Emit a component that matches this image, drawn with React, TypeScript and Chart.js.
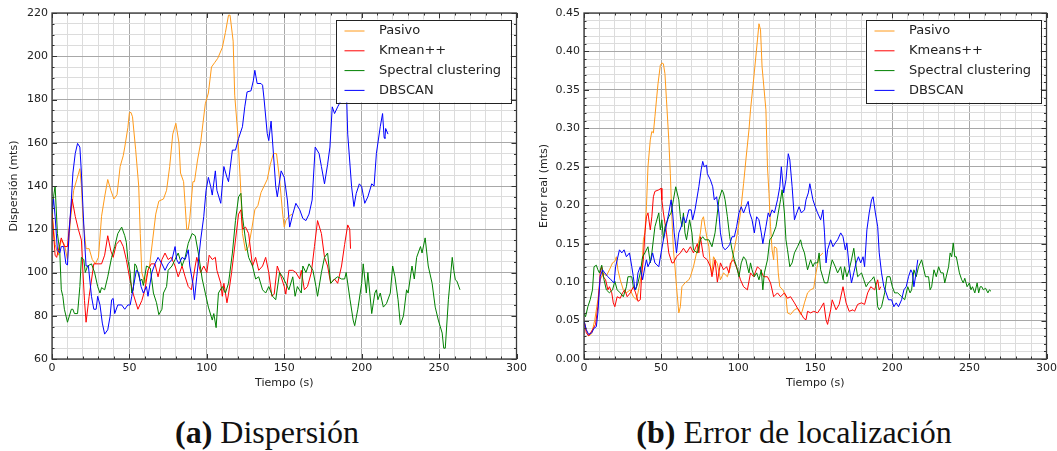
import React, { useEffect, useRef } from "react";
import { Chart, registerables } from "chart.js";
Chart.register(...registerables);

// ---------- (a) Dispersión ----------
const dispPasivoT = [0, 2, 4, 6, 8, 10, 12, 14, 16, 18, 19, 20, 22, 24, 26, 28, 30, 32, 34, 36, 38, 40, 42, 44, 46, 47, 49, 50, 51, 52, 54, 56, 57, 58, 60, 62, 63, 65, 67, 69, 72, 74, 76, 78, 80, 82, 83, 85, 86, 87, 88, 89, 91, 92, 94, 96, 99, 101, 103, 105, 107, 110, 112, 114, 115, 117, 118, 120, 122, 123, 125, 127, 129, 131, 133, 135, 137, 139, 141, 143, 145, 147, 149, 150, 151, 153, 155];
const dispPasivoV = [128, 113, 108, 115, 113, 106, 125, 138, 143, 148, 140, 125, 111, 111, 106, 104, 107, 126, 135, 143, 138, 134, 136, 149, 154, 158, 167, 174, 174, 172, 157, 140, 118, 100, 95, 101, 103, 115, 127, 133, 134, 138, 149, 164, 169, 160, 146, 142, 131, 120, 120, 125, 142, 142, 152, 160, 178, 183, 195, 197, 199, 204, 211, 219, 219, 207, 182, 164, 137, 118, 110, 112, 120, 129, 131, 137, 140, 143, 150, 155, 155, 143, 127, 121, 124, 126, 127];

const dispKmeanT = [0, 2, 3, 5, 6, 8, 10, 11, 13, 15, 17, 19, 20, 21, 22, 24, 25, 27, 30, 32, 34, 36, 38, 39.5, 41.5, 44, 46, 48, 50, 52.5, 55.5, 58, 60, 62, 64, 66.5, 68.5, 71, 73, 75, 77, 79.5, 81.5, 84, 86, 88, 90, 92.5, 93.5, 96, 98, 100, 101.5, 103.5, 105.5, 106.5, 109, 110, 111, 113, 114, 116, 118.5, 120.5, 122, 123, 125, 127, 129.5, 131.5, 133.5, 136, 138, 140, 142, 143.5, 145.5, 148, 150, 151, 153, 155.5, 157.5, 160, 161, 163, 165, 167.5, 169.5, 171.5, 174, 176, 178, 180, 182.5, 184.5, 187, 189, 191, 192.3, 192.8];
const dispKmeanV = [128, 108, 107, 113, 116, 112, 112, 120, 134, 126, 120, 115, 100, 87, 77, 89, 94, 104, 104, 104, 108, 117, 110, 107, 113, 115, 112, 106, 98, 90, 83, 87, 92, 101, 104, 104, 98, 106, 109, 106, 107, 103, 98, 103, 98, 93.5, 92, 103, 107, 100, 103, 100, 108, 106, 107, 101, 95, 89, 95, 86, 90, 100, 115, 127, 129, 120, 121, 118, 103, 107, 101, 103, 107, 100, 89, 90, 103, 98, 93.5, 90, 101, 101, 100, 97, 101, 92, 93.5, 100, 112, 124, 118, 107, 103, 95, 97, 95, 103, 113, 122, 120, 111];

const dispSpectralT = [0, 1, 2, 3.5, 5, 6, 7, 8, 10, 12.5, 13.5, 14.5, 16.5, 18, 19, 20.5, 21.5, 23, 25.5, 27.5, 29.5, 31, 32, 34, 36, 38.5, 40.5, 42.5, 45, 47, 48, 49, 50.5, 51.5, 52.5, 53.5, 54.5, 55.5, 57, 58, 59, 61, 63.5, 65.5, 67.5, 69, 71, 72, 74, 75, 77.5, 79.5, 81.5, 84, 86, 88, 90.5, 92.5, 94.5, 97, 99, 101, 103.5, 104.5, 106, 107.5, 110, 112, 114, 116.5, 118.5, 120.5, 122, 123, 125, 127, 129.5, 131.5, 133.5, 136, 138, 140, 142.5, 144.5, 147, 149, 151, 153, 155.5, 157, 158.5, 161, 162, 164, 166, 168.5, 170.5, 171.5, 174, 176, 178, 180, 182.5, 184.5, 187, 189, 190, 192.5, 194.5, 195.5, 197.5, 200, 201, 203, 204, 206.5, 208.5, 209.5, 210.5, 212, 214, 216, 218.5, 220, 221.5, 223.5, 225, 227, 229, 230, 232.5, 234, 235.5, 238, 239, 241, 243, 245.5, 247.5, 249.5, 252, 253, 254, 256, 258.5, 259.5, 260.5, 261.5, 263.5];
const dispSpectralV = [127, 135, 140, 118, 110, 92, 89, 83, 77, 83, 83, 81, 81, 93.5, 107, 106, 100, 103, 104, 100, 93.5, 90.5, 93, 92, 98, 107, 112, 118, 121, 117, 114, 106, 100, 90.5, 92, 104, 103, 100, 96, 97, 94, 103, 102, 90.5, 86, 80.5, 83, 90.5, 93.5, 101, 103, 106, 109, 103, 107, 113.5, 118, 117, 109, 97, 90.5, 84, 78, 81, 74.5, 90.5, 93.5, 90.5, 95, 109, 124, 135, 136.6, 126, 115, 107, 103, 97, 98, 92, 90.5, 93.5, 89, 87.4, 100, 98, 95, 92, 98, 89, 93.5, 90.5, 103, 100, 104, 101, 93.5, 89, 100, 107, 109, 95, 97, 98, 97, 97, 100, 87.4, 78, 75.4, 83, 95, 104, 90.5, 100, 81, 90.5, 92, 87.4, 90.5, 84, 85.6, 90.5, 103, 98, 87.4, 75.8, 80, 92, 90.5, 103, 97, 107, 112, 109, 116, 103, 95, 84, 78, 72, 65, 65, 87.4, 107, 101, 96.6, 96, 92];

const dispDbscanT = [0, 1, 2, 3.5, 5, 6, 7.5, 9, 10, 11, 12.5, 13.5, 15, 16.5, 18, 19, 20, 21, 22, 23.5, 25.5, 27, 28.5, 29.5, 31, 32.5, 34, 36, 37.5, 38.5, 39.5, 40.5, 42.5, 45, 47, 49, 50.5, 51.5, 53, 54.5, 56, 57.5, 59, 61, 62, 64.5, 66.5, 68.5, 71, 73, 75, 77.5, 79.5, 80.5, 82, 84, 86, 88, 89, 91, 92, 93.5, 96, 98, 99.5, 101, 102.5, 103.5, 105.5, 106.5, 109, 111, 113, 114, 116.5, 118.5, 120.5, 123, 124.5, 126, 128.5, 130, 131, 132.5, 135, 136, 137, 139, 140, 141.5, 143, 144.5, 145.5, 148, 150, 152, 153.5, 155.5, 157.5, 160, 162, 164, 166, 168, 170, 172.5, 174, 176, 178, 179.5, 181, 182.5, 184.5, 187, 188, 189, 190, 191, 193.5, 195, 196.5, 198.5, 200, 202, 204, 206.5, 208, 209.5, 212, 213.5, 214.5, 215, 215.5, 217];
const dispDbscanV = [128, 134, 126, 110.5, 109, 112, 112, 104, 103.5, 118, 133.5, 146, 155, 159.7, 158, 146, 130, 115, 103, 103, 89, 83, 83, 89, 85, 76.6, 71.5, 73.5, 79.7, 87.4, 88, 81, 85, 85, 83, 85, 85, 89, 95, 101, 100, 93.5, 90.5, 93.5, 89, 100, 104, 107, 104, 101, 104, 106, 112, 106, 104, 107, 106, 110.5, 103, 95, 87.4, 98, 115, 125.8, 138, 144, 139.7, 135.8, 147, 138, 132, 149, 144, 142, 156.6, 156.6, 162, 167.4, 176.6, 183.5, 184, 188.6, 193.5, 187.4, 187.4, 186.6, 180, 164.3, 161, 170, 155, 139.7, 135, 147, 144, 133.5, 121, 127, 132, 129, 125, 124, 127, 133.5, 158, 155, 149, 141, 150, 158, 176.6, 173.5, 176.6, 180, 183, 195, 188, 164, 139.7, 130.5, 136.6, 141, 139.7, 132, 135, 141, 140, 155, 167.4, 173.5, 162.5, 162, 166.6, 164];

// ---------- (b) Error de localización ----------
const errPasivoT = [0, 1.5, 3, 5, 7, 9, 10.5, 12.5, 14.5, 16.5, 18.5, 20, 21, 22, 23.5, 25.5, 27.5, 30, 32, 34, 35, 37.5, 38.5, 39.5, 40.5, 41.5, 43, 44, 45, 46, 47, 48, 49.5, 50.5, 51.5, 52.5, 53.5, 55, 56, 57, 58, 59, 60, 61.5, 62.5, 63.5, 65.5, 68, 69, 71, 73, 75.5, 76.5, 77.5, 78.5, 80, 81, 82, 83, 84, 86.5, 88.5, 90.5, 93, 95, 97, 99.5, 101.5, 103.5, 105, 107, 108, 110, 112.5, 113.5, 114.5, 115.5, 118, 119, 120, 121, 122, 123, 123.5, 125, 126, 127, 129, 131, 132, 134, 136.5, 138.5, 140.5, 141.5, 143, 145, 147, 149, 150.5, 152.5, 155];
const errPasivoV = [0.05, 0.038, 0.03, 0.033, 0.051, 0.077, 0.103, 0.112, 0.108, 0.116, 0.125, 0.127, 0.133, 0.116, 0.103, 0.09, 0.086, 0.09, 0.081, 0.077, 0.086, 0.112, 0.155, 0.164, 0.198, 0.25, 0.285, 0.296, 0.294, 0.315, 0.337, 0.358, 0.382, 0.385, 0.384, 0.371, 0.337, 0.285, 0.241, 0.185, 0.142, 0.12, 0.094, 0.06, 0.068, 0.094, 0.099, 0.103, 0.107, 0.12, 0.138, 0.164, 0.181, 0.185, 0.172, 0.155, 0.146, 0.12, 0.112, 0.133, 0.124, 0.103, 0.112, 0.107, 0.12, 0.138, 0.164, 0.19, 0.228, 0.259, 0.298, 0.324, 0.363, 0.415, 0.436, 0.428, 0.38, 0.324, 0.25, 0.215, 0.172, 0.142, 0.129, 0.146, 0.144, 0.112, 0.094, 0.09, 0.081, 0.06, 0.058, 0.064, 0.066, 0.058, 0.062, 0.073, 0.086, 0.09, 0.092, 0.112, 0.133, 0.138];

const errKmeansT = [0, 1.5, 3, 5.5, 7.5, 9, 10.5, 11.5, 12.5, 14, 15.5, 16.5, 18, 19, 20, 21.5, 23.5, 25, 26.5, 28, 30, 32, 33.5, 35, 36.5, 37.5, 38.5, 39.5, 40.5, 41.5, 43, 44, 45, 46, 48.5, 50, 50.5, 51.5, 53.5, 55, 57, 58, 60, 62.5, 64.5, 66.5, 69, 71, 73.5, 74.5, 75.5, 77.5, 80, 82, 83, 85, 86.5, 88.5, 90.5, 92.5, 94, 95, 97, 99.5, 101.5, 103.5, 106, 108, 110, 112.5, 114.5, 116.5, 119, 121, 123, 125.5, 127.5, 130, 132, 134, 136.5, 138.5, 140.5, 142.5, 144, 145, 147, 149, 151.5, 153.5, 155.5, 157, 158, 160, 161, 163.5, 165.5, 168, 170, 172, 174.5, 175.5, 177.5, 180, 182, 184, 186, 188.5, 190.5, 191.5, 192.5];
const errKmeansV = [0.05, 0.034, 0.03, 0.038, 0.045, 0.068, 0.112, 0.12, 0.107, 0.103, 0.09, 0.094, 0.086, 0.073, 0.068, 0.081, 0.079, 0.086, 0.09, 0.081, 0.086, 0.094, 0.086, 0.075, 0.077, 0.112, 0.129, 0.164, 0.185, 0.19, 0.168, 0.185, 0.211, 0.218, 0.22, 0.222, 0.207, 0.19, 0.164, 0.138, 0.125, 0.125, 0.133, 0.138, 0.144, 0.138, 0.146, 0.138, 0.15, 0.138, 0.159, 0.133, 0.129, 0.12, 0.107, 0.129, 0.1, 0.125, 0.116, 0.12, 0.112, 0.125, 0.129, 0.116, 0.103, 0.094, 0.09, 0.112, 0.107, 0.12, 0.116, 0.107, 0.107, 0.099, 0.081, 0.086, 0.081, 0.086, 0.079, 0.081, 0.073, 0.066, 0.06, 0.053, 0.051, 0.062, 0.06, 0.062, 0.06, 0.066, 0.073, 0.051, 0.045, 0.064, 0.077, 0.064, 0.071, 0.094, 0.073, 0.062, 0.064, 0.062, 0.071, 0.073, 0.071, 0.086, 0.094, 0.09, 0.103, 0.09, 0.094];

const errSpectralT = [0, 1, 2.5, 4, 5.5, 6.5, 8, 9, 10, 11.5, 13, 14.5, 16.5, 18.5, 20, 21.5, 23.5, 25.5, 27.5, 28.5, 31, 32, 33.5, 35, 36.5, 38, 39.5, 41.5, 43, 44, 46, 48.5, 49.5, 50.5, 51.5, 52.5, 55, 56.5, 58, 59.5, 61.5, 62.5, 63.5, 64.5, 65.5, 66.5, 68.5, 70, 71, 73.5, 75.5, 77, 78.5, 81, 83, 85, 87.5, 89.5, 90.5, 91.5, 93, 94.5, 96, 97.5, 99, 100.5, 102, 103.5, 105, 106, 107, 108, 109, 110.5, 112, 113.5, 115, 116, 117, 119, 120.5, 122, 124.5, 126, 127.5, 128.5, 130, 131, 132, 133.5, 135, 136.5, 138.5, 140.5, 141.5, 143, 145, 147, 148.5, 149.5, 151.5, 152.5, 153.5, 156, 158, 160, 161, 163, 164.5, 166.5, 168, 169, 170.5, 172, 173.5, 175, 176.5, 177.5, 180, 181.5, 183, 184.5, 186.5, 188, 189.5, 190.5, 191.5, 193, 195, 196.5, 198.5, 200, 201.5, 203.5, 206, 208, 210, 211.5, 212.5, 214, 215.5, 217, 219, 220, 221.5, 223.5, 224.5, 225.5, 227, 228.5, 230, 231.5, 233, 234, 236.5, 237.5, 238.5, 239.5, 240.5, 241.5, 243.5, 245, 246, 247, 248.5, 250, 251, 252, 253.5, 255, 256, 257, 258, 259, 260.5, 262, 263, 264];
const errSpectralV = [0.06, 0.055, 0.068, 0.077, 0.09, 0.12, 0.122, 0.116, 0.112, 0.122, 0.103, 0.09, 0.086, 0.09, 0.101, 0.09, 0.086, 0.081, 0.094, 0.107, 0.107, 0.094, 0.09, 0.099, 0.112, 0.133, 0.138, 0.146, 0.125, 0.138, 0.172, 0.19, 0.168, 0.181, 0.155, 0.172, 0.185, 0.19, 0.207, 0.224, 0.207, 0.185, 0.172, 0.19, 0.164, 0.155, 0.181, 0.164, 0.142, 0.138, 0.155, 0.159, 0.155, 0.155, 0.146, 0.164, 0.207, 0.22, 0.216, 0.207, 0.185, 0.159, 0.142, 0.129, 0.12, 0.107, 0.125, 0.133, 0.129, 0.12, 0.112, 0.125, 0.116, 0.107, 0.112, 0.103, 0.116, 0.09, 0.112, 0.129, 0.155, 0.159, 0.172, 0.19, 0.207, 0.22, 0.19, 0.155, 0.142, 0.12, 0.125, 0.138, 0.146, 0.155, 0.146, 0.138, 0.116, 0.129, 0.12, 0.125, 0.125, 0.138, 0.116, 0.099, 0.099, 0.12, 0.129, 0.12, 0.112, 0.12, 0.103, 0.12, 0.107, 0.116, 0.129, 0.144, 0.12, 0.107, 0.112, 0.103, 0.094, 0.099, 0.103, 0.107, 0.094, 0.068, 0.064, 0.068, 0.086, 0.107, 0.107, 0.094, 0.086, 0.086, 0.081, 0.077, 0.094, 0.086, 0.09, 0.116, 0.107, 0.12, 0.129, 0.12, 0.107, 0.107, 0.09, 0.094, 0.116, 0.107, 0.12, 0.112, 0.112, 0.099, 0.12, 0.138, 0.133, 0.151, 0.133, 0.133, 0.112, 0.103, 0.099, 0.105, 0.094, 0.099, 0.09, 0.094, 0.086, 0.099, 0.086, 0.094, 0.094, 0.09, 0.092, 0.086, 0.09, 0.088];

const errDbscanT = [0, 1.5, 3, 5, 6.5, 8, 9, 10.5, 12, 13.5, 15.5, 17.5, 19.5, 20.5, 23, 24.5, 26, 27.5, 29.5, 31, 32, 33, 34, 35, 36.5, 38, 39.5, 40.5, 41.5, 43.5, 44.5, 46, 48.5, 50, 51.5, 52.5, 55, 56.5, 57.5, 58.5, 60, 61.5, 63, 64.5, 66, 68, 69.5, 70.5, 72, 74.5, 76, 77, 78, 79.5, 80, 82, 83.5, 84.5, 86, 87.5, 88.5, 90, 91.5, 93.5, 94.5, 96, 97.5, 99, 100.5, 102, 103.5, 105, 106.5, 107.5, 109, 110.5, 112, 113.5, 115, 116, 118, 119.5, 120.5, 122, 123.5, 125.5, 127, 128, 129.5, 131, 132.5, 133.5, 135, 136.5, 138, 139.5, 141, 143, 144, 145.5, 146.5, 148.5, 150, 151.5, 153.5, 155, 156, 157, 158, 160, 161.5, 163, 164.5, 166.5, 168, 169.5, 170.5, 172, 173.5, 175, 176.5, 178, 179.5, 181, 182, 183.5, 185, 186.5, 187.5, 189, 190.5, 191.5, 193, 194.5, 196, 197.5, 199.5, 201, 202.5, 204, 206, 207.5, 209, 210.5, 212, 213, 214, 215, 216.5];
const errDbscanV = [0.05, 0.038, 0.032, 0.034, 0.04, 0.042, 0.06, 0.107, 0.116, 0.112, 0.107, 0.103, 0.099, 0.12, 0.142, 0.138, 0.142, 0.133, 0.138, 0.12, 0.107, 0.09, 0.094, 0.112, 0.12, 0.103, 0.12, 0.129, 0.12, 0.129, 0.138, 0.125, 0.12, 0.138, 0.155, 0.164, 0.19, 0.207, 0.19, 0.164, 0.138, 0.164, 0.172, 0.185, 0.177, 0.194, 0.194, 0.181, 0.194, 0.224, 0.246, 0.257, 0.25, 0.252, 0.241, 0.233, 0.224, 0.207, 0.211, 0.19, 0.164, 0.146, 0.142, 0.146, 0.149, 0.159, 0.159, 0.172, 0.19, 0.198, 0.19, 0.198, 0.205, 0.19, 0.181, 0.164, 0.185, 0.181, 0.164, 0.15, 0.172, 0.19, 0.185, 0.194, 0.19, 0.207, 0.224, 0.25, 0.216, 0.233, 0.267, 0.259, 0.224, 0.181, 0.19, 0.198, 0.19, 0.194, 0.207, 0.216, 0.228, 0.207, 0.198, 0.19, 0.181, 0.194, 0.164, 0.125, 0.142, 0.155, 0.146, 0.151, 0.155, 0.164, 0.159, 0.142, 0.151, 0.12, 0.099, 0.112, 0.125, 0.133, 0.125, 0.133, 0.12, 0.168, 0.19, 0.207, 0.211, 0.19, 0.172, 0.138, 0.112, 0.094, 0.086, 0.077, 0.077, 0.068, 0.073, 0.068, 0.077, 0.09, 0.094, 0.107, 0.116, 0.112, 0.094, 0.107, 0.129];

const labelsA = ["Pasivo", "Kmean++", "Spectral clustering", "DBSCAN"];
const labelsB = ["Pasivo", "Kmeans++", "Spectral clustering", "DBSCAN"];
const seriesColors = ["#FF9A1A", "#FF0000", "#008000", "#0000FF"];

const FONT = '"DejaVu Sans", sans-serif';
const TEXT = "#222222";
const MAJOR = "#a8a8a8";
const MINOR = "#dcdcdc";

function pts(t: number[], v: number[]) {
  return t.map((x, i) => ({ x, y: v[i] }));
}

function makeConfig(opts: any) {
  const { series, labels, yMin, yMax, yStep, isYMajor, yLabel, yTitle, yWidth } = opts;
  const isXMajor = (v: number) => Math.round(v) % 50 === 0;

  const overlay = {
    id: "overlay",
    afterDatasetsDraw(chart: any) {
      const ctx = chart.ctx;
      const a = chart.chartArea;
      ctx.save();
      const w = 175, h = 83;
      const bx = a.right - 6 - w;
      const by = a.top + 6.5;
      ctx.fillStyle = "#ffffff";
      ctx.fillRect(bx, by, w, h);
      ctx.strokeStyle = "#222222";
      ctx.lineWidth = 1;
      ctx.strokeRect(Math.round(bx) + 0.5, Math.round(by) + 0.5, w, h);
      ctx.font = "13px " + FONT;
      ctx.textBaseline = "middle";
      ctx.textAlign = "left";
      labels.forEach((lab: string, i: number) => {
        const yy = by + 11.5 + i * 19.8;
        ctx.strokeStyle = seriesColors[i];
        ctx.lineWidth = 1;
        ctx.beginPath();
        ctx.moveTo(bx + 9, yy);
        ctx.lineTo(bx + 29, yy);
        ctx.stroke();
        ctx.fillStyle = TEXT;
        ctx.fillText(lab, bx + 43.5, yy);
      });
      ctx.restore();
    },
    afterDraw(chart: any) {
      const ctx = chart.ctx;
      const a = chart.chartArea;
      const xs = chart.scales.x;
      const ys = chart.scales.y;
      ctx.save();
      ctx.strokeStyle = "#333333";
      ctx.lineWidth = 1;
      ctx.beginPath();
      xs.ticks.forEach((t: any) => {
        const px = Math.round(xs.getPixelForValue(t.value)) + 0.5;
        const len = isXMajor(t.value) ? 5 : 2.5;
        ctx.moveTo(px, a.bottom);
        ctx.lineTo(px, a.bottom - len);
        ctx.moveTo(px, a.top);
        ctx.lineTo(px, a.top + len);
      });
      ys.ticks.forEach((t: any) => {
        const py = Math.round(ys.getPixelForValue(t.value)) + 0.5;
        const len = isYMajor(t.value) ? 5 : 2.5;
        ctx.moveTo(a.left, py);
        ctx.lineTo(a.left + len, py);
        ctx.moveTo(a.right, py);
        ctx.lineTo(a.right - len, py);
      });
      ctx.stroke();
      ctx.strokeStyle = "#3a3a3a";
      ctx.lineWidth = 1.3;
      ctx.strokeRect(a.left, a.top, a.right - a.left, a.bottom - a.top);
      ctx.restore();
    },
  };

  return {
    type: "line" as const,
    data: {
      datasets: series.map((s: any, i: number) => ({
        label: labels[i],
        data: pts(s[0], s[1]),
        borderColor: seriesColors[i],
        backgroundColor: seriesColors[i],
        borderWidth: 1,
        pointRadius: 0,
        tension: 0,
        fill: false,
        order: 3 - i,
      })),
    },
    options: {
      responsive: false,
      animation: false,
      events: [],
      devicePixelRatio: 1,
      layout: { padding: { left: 0, top: 13, right: 12, bottom: 0 } },
      plugins: { legend: { display: false }, tooltip: { enabled: false } },
      scales: {
        x: {
          type: "linear",
          min: 0,
          max: 300,
          afterFit: (s: any) => {
            s.height = 41;
          },
          ticks: {
            stepSize: 10,
            autoSkip: false,
            maxRotation: 0,
            padding: 3,
            color: TEXT,
            font: { family: FONT, size: 11 },
            callback: (v: any) => (isXMajor(Number(v)) ? String(Math.round(Number(v))) : ""),
          },
          grid: {
            drawTicks: false,
            color: (c: any) => (c.tick && isXMajor(c.tick.value) ? MAJOR : MINOR),
          },
          border: { display: false },
          title: {
            display: true,
            text: "Tiempo (s)",
            color: TEXT,
            font: { family: FONT, size: 11 },
            padding: { top: 0, bottom: 10 },
          },
        },
        y: {
          type: "linear",
          min: yMin,
          max: yMax,
          afterFit: (s: any) => {
            s.width = yWidth;
          },
          ticks: {
            stepSize: yStep,
            autoSkip: false,
            maxTicksLimit: 1000,
            padding: 4,
            color: TEXT,
            font: { family: FONT, size: 11 },
            callback: (v: any) => (isYMajor(Number(v)) ? yLabel(Number(v)) : ""),
          },
          grid: {
            drawTicks: false,
            color: (c: any) => (c.tick && isYMajor(c.tick.value) ? MAJOR : MINOR),
          },
          border: { display: false },
          title: {
            display: true,
            text: yTitle,
            color: TEXT,
            font: { family: FONT, size: 11 },
            padding: { top: 8, bottom: 0 },
          },
        },
      },
    },
    plugins: [overlay],
  };
}

function ChartCanvas(props: { config: any; width: number; height: number }) {
  const ref = useRef<HTMLCanvasElement | null>(null);
  useEffect(() => {
    if (!ref.current) return;
    const chart = new Chart(ref.current, props.config);
    return () => chart.destroy();
  }, []);
  return (
    <canvas
      ref={ref}
      width={props.width}
      height={props.height}
      style={{ width: props.width, height: props.height, display: "block" }}
    />
  );
}

export default function App() {
  const cfgA = makeConfig({
    series: [
      [dispPasivoT, dispPasivoV],
      [dispKmeanT, dispKmeanV],
      [dispSpectralT, dispSpectralV],
      [dispDbscanT, dispDbscanV],
    ],
    labels: labelsA,
    yMin: 60,
    yMax: 220,
    yStep: 5,
    isYMajor: (v: number) => Math.round(v) % 20 === 0,
    yLabel: (v: number) => String(Math.round(v)),
    yTitle: "Dispersión (mts)",
    yWidth: 52,
  });
  const cfgB = makeConfig({
    series: [
      [errPasivoT, errPasivoV],
      [errKmeansT, errKmeansV],
      [errSpectralT, errSpectralV],
      [errDbscanT, errDbscanV],
    ],
    labels: labelsB,
    yMin: 0,
    yMax: 0.45,
    yStep: 0.01,
    isYMajor: (v: number) => Math.round(v * 100) % 5 === 0,
    yLabel: (v: number) => v.toFixed(2),
    yTitle: "Error real (mts)",
    yWidth: 54,
  });

  const captionStyle: React.CSSProperties = {
    position: "absolute",
    top: 414,
    width: 400,
    height: 36,
    lineHeight: "36px",
    textAlign: "center",
    fontFamily: '"Liberation Serif", "Times New Roman", serif',
    fontSize: 32,
    color: "#111111",
    whiteSpace: "nowrap",
  };

  return (
    <div
      style={{
        position: "absolute",
        left: 0,
        top: 0,
        width: 1057,
        height: 451,
        overflow: "hidden",
        background: "#ffffff",
      }}
    >
      <div style={{ position: "absolute", left: 0, top: 0 }}>
        <ChartCanvas config={cfgA} width={530} height={400} />
      </div>
      <div style={{ position: "absolute", left: 530, top: 0 }}>
        <ChartCanvas config={cfgB} width={530} height={400} />
      </div>
      <div style={{ ...captionStyle, left: 67 }}>
        <b>(a)</b> Dispersión
      </div>
      <div style={{ ...captionStyle, left: 594 }}>
        <b>(b)</b> Error de localización
      </div>
    </div>
  );
}
